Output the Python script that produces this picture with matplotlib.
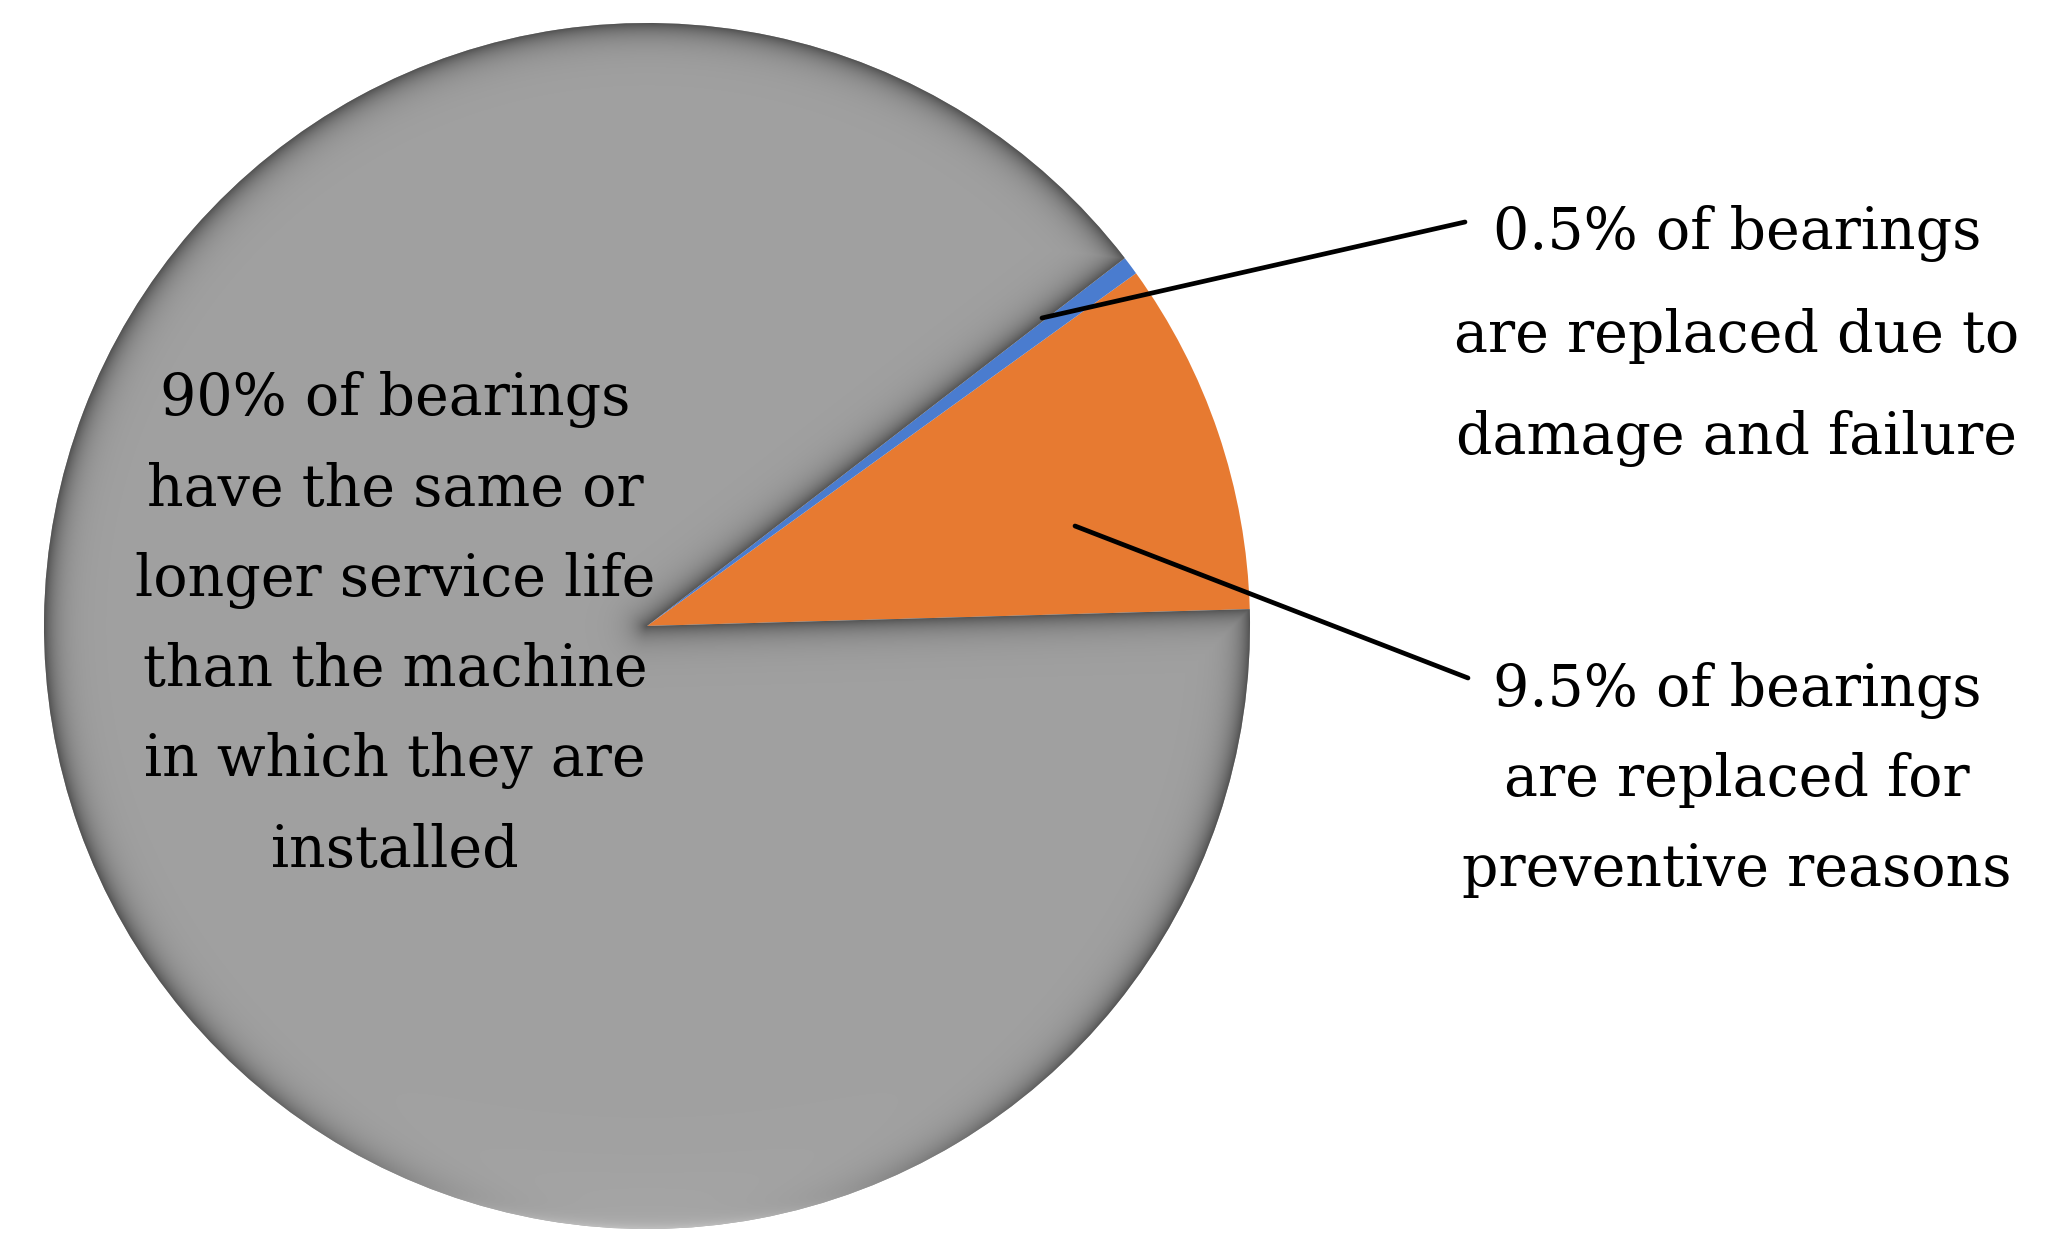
import numpy as np
import matplotlib
matplotlib.use("Agg")
import matplotlib.pyplot as plt

# shares of bearings (percent)
shares = [9.5, 0.5, 90.0]
slice_colors = ["#E77A31", "#4A7CCF", "#A0A0A0"]
labels_left = "90% of bearings\nhave the same or\nlonger service life\nthan the machine\nin which they are\ninstalled"
label_small = "0.5% of bearings\nare replaced due to\ndamage and failure"
label_orange = "9.5% of bearings\nare replaced for\npreventive reasons"

W, H = 2051, 1258
cx, cy, R = 647, H - 626, 603   # pie centre / radius in pixel units (y up)

fig = plt.figure(figsize=(W / 100, H / 100), dpi=100)
ax = fig.add_axes([0, 0, 1, 1])

wedges, _ = ax.pie(shares, colors=slice_colors, startangle=1.6, counterclock=True,
                   center=(cx, cy), radius=R, wedgeprops=dict(linewidth=0))
ax.set_xlim(0, W)
ax.set_ylim(0, H)
ax.set_aspect("equal")
ax.axis("off")

# soft bevel on the grey slice: darker near its edges, a bit lighter at the bottom
gw = wedges[2]
xs = np.arange(cx - R, cx + R + 1)
ys = np.arange(cy - R, cy + R + 1)
X, Y = np.meshgrid(xs - cx, ys - cy)
r = np.hypot(X, Y)
d = R - r
for ang in (gw.theta1, gw.theta2):
    ux, uy = np.cos(np.radians(ang)), np.sin(np.radians(ang))
    t = np.clip(X * ux + Y * uy, 0, R)
    d = np.minimum(d, np.hypot(X - t * ux, Y - t * uy))
d = np.clip(d, 0, None)
sin_a = np.where(r > 0, Y / np.maximum(r, 1e-9), 0)
bottom = np.clip(-sin_a, 0, 1) ** 8 * np.exp(-(R - r) / 25)
v = 0.63 - 0.3 * np.exp(-d / 13) * (1 - bottom) + 0.12 * bottom
img = np.dstack([v, v, v])
im = ax.imshow(img, extent=(cx - R, cx + R, cy - R, cy + R), origin="lower",
               interpolation="bilinear", zorder=1.5)
im.set_clip_path(gw)
ax.set_xlim(0, W)
ax.set_ylim(0, H)

font = dict(family="DejaVu Serif", fontsize=41, color="black", ha="center", va="center")
ax.text(395, H - 625, labels_left, linespacing=1.77, **font)
ax.text(1737, H - 336, label_small, linespacing=2.04, **font)
ax.text(1737, H - 780, label_orange, linespacing=1.77, **font)

# leader lines
ax.annotate("", xy=(1042, H - 318), xytext=(1465, H - 222),
            arrowprops=dict(arrowstyle="-", lw=3.4, color="black", shrinkA=0, shrinkB=0))
ax.annotate("", xy=(1075, H - 526), xytext=(1468, H - 678),
            arrowprops=dict(arrowstyle="-", lw=3.4, color="black", shrinkA=0, shrinkB=0))

fig.savefig("out.png", dpi=100)
